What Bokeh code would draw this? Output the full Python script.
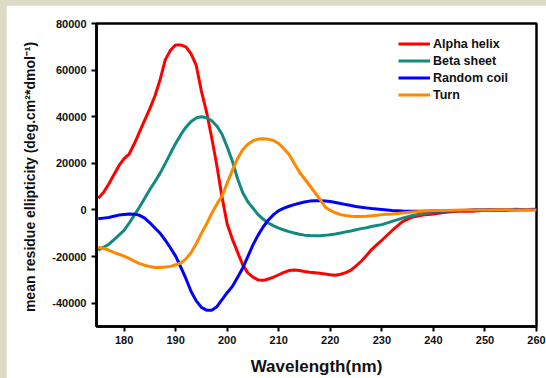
from bokeh.plotting import figure
from bokeh.models import FixedTicker, Legend, LegendItem, ColumnDataSource, NumeralTickFormatter
from bokeh.embed import file_html
from bokeh.resources import INLINE

wavelength = list(range(175, 231)) + list(range(232, 261, 2))

alpha_helix = [5000, 7500, 11000, 15000, 19000, 22000, 24000, 28500, 33500, 38500,
               43500, 49000, 56000, 64500, 68500, 70800, 70800, 70000, 67000, 62000,
               51000, 42000, 31000, 19000, 5500, -6000, -12500, -18000, -23500, -27000,
               -28800, -30000, -30200, -29600, -28800, -27800, -26800, -26000, -25800, -26000,
               -26400, -26700, -26900, -27200, -27500, -27800, -28000, -27600, -26900, -25800,
               -24000, -22000, -19600, -17000, -15000, -13000,
               -8800, -5000, -3000, -2200, -1700, -1100, -700, -400, -500, -100, 200, 0, 300, 100, 200]

beta_sheet = [-17300, -16000, -14800, -12800, -10800, -8800, -5600, -2200, 1300, 5000,
              8800, 12200, 15800, 20000, 24300, 28500, 32300, 35500, 38000, 39500,
              40000, 39600, 38300, 36000, 32500, 27000, 21000, 13500, 7500, 3500,
              800, -2000, -4000, -5600, -6800, -7800, -8600, -9300, -9900, -10400,
              -10800, -11000, -11100, -11100, -10900, -10600, -10300, -9900, -9400, -9000,
              -8500, -8000, -7600, -7100, -6700, -6300,
              -4900, -3500, -2400, -1600, -800, -500, -300, -200, 0, 0, 100, 0, 200, 100, 200]

random_coil = [-3800, -3500, -3200, -2700, -2200, -1900, -1700, -1800, -2300, -3500,
               -5500, -7800, -10000, -13000, -16300, -19800, -24500, -29500, -35000, -39000,
               -41800, -43000, -43000, -41500, -38500, -35500, -32800, -29000, -25000, -20000,
               -15000, -10800, -7200, -4300, -2000, -300, 800, 1600, 2300, 2900,
               3400, 3800, 4000, 4000, 3800, 3600, 3200, 2800, 2300, 1900,
               1500, 1200, 900, 600, 400, 200,
               -200, -400, -500, -500, -400, -300, -200, -200, 0, 0, 100, 0, 100, 200, 300]

turn = [-16000, -16500, -17200, -18200, -19000, -19800, -20800, -22000, -23000, -23700,
        -24300, -24700, -24700, -24500, -24200, -23500, -22800, -21000, -18300, -14500,
        -10000, -6000, -1500, 2500, 6000, 11500, 17000, 22000, 25800, 28200,
        29700, 30400, 30600, 30300, 29800, 28500, 26300, 23800, 20000, 16300,
        13400, 10500, 7500, 4600, 1300, -200, -1200, -2000, -2400, -2700,
        -2800, -2800, -2700, -2500, -2300, -2000,
        -1700, -1300, -900, -600, -300, -200, -100, 0, 0, 0, 100, 100, 0, 100, 0]

series_names = ["Alpha helix", "Beta sheet", "Random coil", "Turn"]
series_values = [alpha_helix, beta_sheet, random_coil, turn]
series_colors = ["#ff0000", "#138a80", "#0000ff", "#ff8800"]

x_ticks = [180, 190, 200, 210, 220, 230, 240, 250, 260]
y_ticks = [-40000, -20000, 0, 20000, 40000, 60000, 80000]

FONT = "Liberation Sans"

p = figure(width=540, height=373, x_range=(174.65, 260), y_range=(-50000, 80000),
           output_backend="svg", toolbar_location=None,
           min_border_left=90, min_border_right=10, min_border_top=18, min_border_bottom=49,
           background_fill_color="white", border_fill_color="white")

p.xgrid.visible = False
p.ygrid.visible = False
p.outline_line_color = "black"
p.outline_line_width = 2.5

items = []
for name, vals, col in zip(series_names, series_values, series_colors):
    src = ColumnDataSource(data=dict(x=wavelength, y=vals))
    r = p.line("x", "y", source=src, line_color=col, line_width=3)
    items.append(LegendItem(label=name, renderers=[r]))

for ax in (p.xaxis[0], p.yaxis[0]):
    ax.axis_line_width = 2.5
    ax.axis_line_color = "black"
    ax.major_tick_line_width = 2
    ax.major_tick_line_color = "black"
    ax.major_tick_out = 5
    ax.major_tick_in = 0
    ax.minor_tick_line_color = None
    ax.major_label_text_font = FONT
    ax.major_label_text_font_style = "bold"
    ax.major_label_text_font_size = "11px"
    ax.major_label_text_color = "#111111"
    ax.axis_label_text_font = FONT
    ax.axis_label_text_font_style = "bold"
    ax.axis_label_text_color = "#111111"

p.xaxis.ticker = FixedTicker(ticks=x_ticks)
p.yaxis.ticker = FixedTicker(ticks=y_ticks)
p.yaxis.formatter = NumeralTickFormatter(format="0")
p.xaxis.major_label_standoff = 4
p.yaxis.major_label_standoff = 5

p.xaxis.axis_label = "Wavelength(nm)"
p.xaxis.axis_label_text_font_size = "17px"
p.xaxis.axis_label_standoff = 10
p.yaxis.axis_label = "mean residue ellipticity  (deg.cm\u00b2*dmol\u207b\u00b9)"
p.yaxis.axis_label_text_font_size = "14px"
p.yaxis.axis_label_standoff = 11

legend = Legend(items=items, location=(302, 223), orientation="vertical",
                border_line_color=None, background_fill_alpha=0,
                padding=0, margin=0, spacing=0,
                glyph_width=32, glyph_height=17, label_height=17,
                label_standoff=3,
                label_text_font=FONT, label_text_font_style="bold",
                label_text_font_size="12.5px", label_text_color="#111111")
p.add_layout(legend, "center")

html = file_html(p, INLINE)
extra_css = ("<style>html, body { background-color: #dfdac6 !important; } "
             "body { padding: 5px 0 0 6px !important; overflow: hidden !important; }</style>")
html = html.replace("</head>", extra_css + "\n</head>", 1)
open("out.html", "w").write(html)
